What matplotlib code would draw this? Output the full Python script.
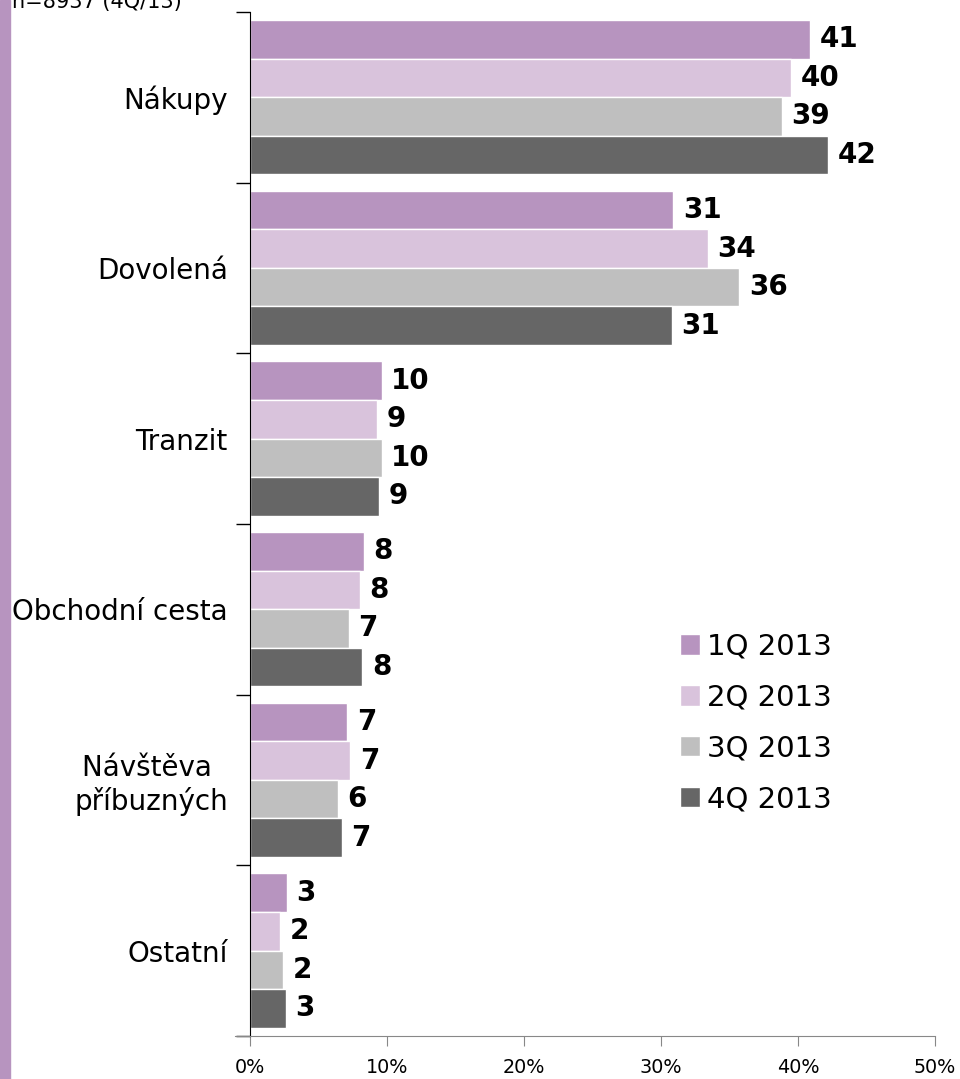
import matplotlib.pyplot as plt
import matplotlib.patches as patches
import numpy as np

categories = ['Nákupy', 'Dovolená', 'Tranzit', 'Obchodní cesta', 'Návštěva \npříbuzných', 'Ostatní']
quarters = ['1Q 2013', '2Q 2013', '3Q 2013', '4Q 2013']
q1 = [40.9, 30.9, 9.6, 8.3, 7.1, 2.7]
q2 = [39.5, 33.4, 9.3, 8.0, 7.3, 2.2]
q3 = [38.8, 35.7, 9.6, 7.2, 6.4, 2.4]
q4 = [42.2, 30.8, 9.4, 8.2, 6.7, 2.6]
labels_q1 = ['41', '31', '10', '8', '7', '3']
labels_q2 = ['40', '34', '9', '8', '7', '2']
labels_q3 = ['39', '36', '10', '7', '6', '2']
labels_q4 = ['42', '31', '9', '8', '7', '3']
colors = ['#b794bf', '#d9c3dc', '#bfbfbf', '#666666']
note = 'n=8937 (4Q/13)'

series = [q1, q2, q3, q4]
labels = [labels_q1, labels_q2, labels_q3, labels_q4]

fig = plt.figure(figsize=(9.6, 10.79), dpi=100)
ax = fig.add_axes([0.2605, 0.04, 0.7135, 0.949])

y = np.arange(len(categories))
h = 0.226
for i, (vals, labs) in enumerate(zip(series, labels)):
    pos = y - 1.5 * h + i * h
    bars = ax.barh(pos, vals, height=h, color=colors[i], edgecolor='white',
                   linewidth=1.0, label=quarters[i])
    for b, lab in zip(bars, labs):
        ax.text(b.get_width() + 0.7, b.get_y() + b.get_height() / 2, lab,
                va='center', ha='left', fontsize=20, fontweight='bold')

ax.set_xlim(0, 50)
ax.set_ylim(5.5, -0.5)
ax.set_xticks(np.arange(0, 51, 10))
ax.set_xticklabels([f'{t}%' for t in range(0, 51, 10)], fontsize=13.8)
ax.tick_params(axis='x', direction='out', length=7, color='#888888', pad=9)

ax.set_yticks(y)
ax.set_yticklabels(categories, fontsize=20, multialignment='center')
ax.tick_params(axis='y', length=0, pad=16)
ax.set_yticks(np.arange(-0.5, 6.0, 1.0), minor=True)
ax.tick_params(axis='y', which='minor', direction='out', length=10, width=1)

for s in ['top', 'right']:
    ax.spines[s].set_visible(False)
ax.spines['bottom'].set_color('#888888')
ax.spines['bottom'].set_bounds(-1.1, 50)
ax.spines['left'].set_color('black')

leg = ax.legend(loc='upper left', bbox_to_anchor=(0.61, 0.405), frameon=False,
                fontsize=21, handlelength=0.7, handleheight=0.7,
                handletextpad=0.25, labelspacing=0.78, borderaxespad=0)

fig.patches.append(patches.Rectangle((0, 0), 10 / 960, 1, transform=fig.transFigure,
                                     color='#b794bf', zorder=0))
fig.text(12 / 960, 1 - 8 / 1079, note, fontsize=15, va='baseline', ha='left')

fig.savefig('out.png', dpi=100)
